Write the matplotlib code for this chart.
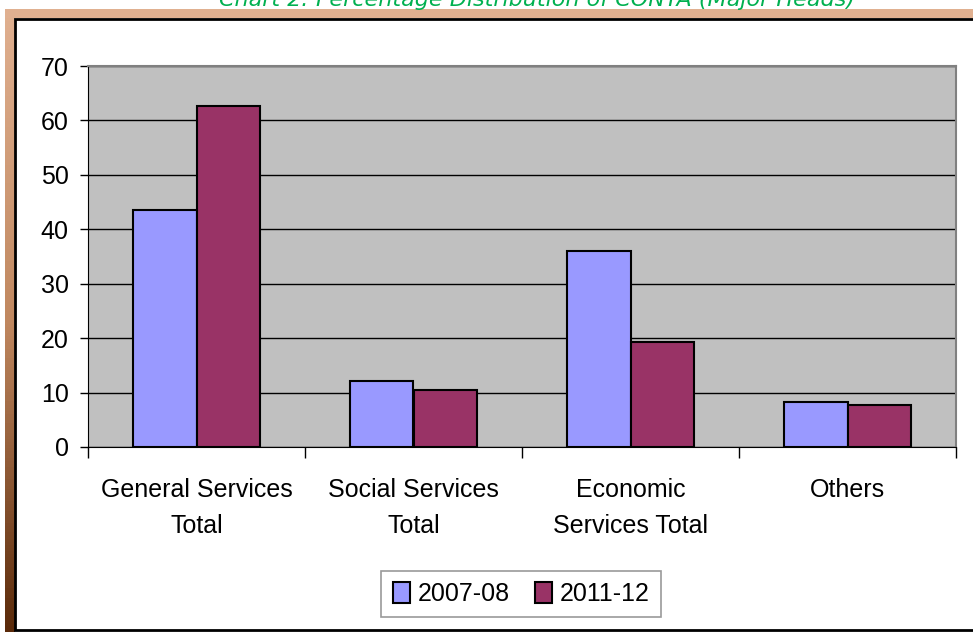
import numpy as np
import matplotlib.pyplot as plt
from matplotlib.patches import Rectangle
from matplotlib.colors import LinearSegmentedColormap

plt.rcParams["font.family"] = ["Liberation Sans", "DejaVu Sans"]

# ---data----
categories = ["General Services\nTotal", "Social Services\nTotal", "Economic\nServices Total", "Others"]
series_names = ["2007-08", "2011-12"]
values_2007 = [43.5, 12.2, 36.1, 8.2]
values_2011 = [62.7, 10.5, 19.2, 7.8]
y_ticks = [0, 10, 20, 30, 40, 50, 60, 70]
title_text = "Chart 2: Percentage Distribution of CONTA (Major Heads)"
# ---data----

W, H = 973, 632
fig = plt.figure(figsize=(W / 100, H / 100), dpi=100)


def fx(px):
    return px / W


def fy(py):
    return 1 - py / H


# frame decorations
fig.patches.append(Rectangle((fx(5), fy(18)), fx(968), 9 / H, transform=fig.transFigure,
                             facecolor="#E0B090", edgecolor="none", zorder=0))
grad_ax = fig.add_axes([fx(5), 0, fx(10), fy(9)])
grad_ax.imshow(np.linspace(0, 1, 200).reshape(-1, 1), aspect="auto",
               cmap=LinearSegmentedColormap.from_list("brd", ["#E0B090", "#C08860", "#5A2A0A"]))
grad_ax.axis("off")
fig.patches.append(Rectangle((fx(15), fy(630)), fx(970), (630 - 19) / H, transform=fig.transFigure,
                             facecolor="white", edgecolor="black", linewidth=2, zorder=0))

fig.text(fx(537), fy(6), title_text, color="#00B050", fontsize=16, style="italic",
         ha="center", va="baseline", family=["DejaVu Sans"])

ax = fig.add_axes([fx(88), fy(447), fx(956 - 88), (447 - 66) / H])
ax.set_zorder(2)
ax.set_facecolor("#C0C0C0")

x = np.arange(len(categories))
w = 0.293
ax.bar(x - w / 2, values_2007, w, color="#9999FF", edgecolor="black", linewidth=1.5,
       label=series_names[0], zorder=3)
ax.bar(x + w / 2, values_2011, w, color="#993366", edgecolor="black", linewidth=1.5,
       label=series_names[1], zorder=3)

ax.set_xlim(-0.5, len(categories) - 0.5)
ax.set_ylim(0, 70)
ax.set_yticks(y_ticks)
ax.yaxis.grid(True, color="black", linewidth=1, zorder=1)
ax.set_axisbelow(True)

ax.set_xticks(x)
ax.set_xticklabels(categories, linespacing=1.65)
ax.set_xticks(np.arange(len(categories) + 1) - 0.5, minor=True)
ax.tick_params(axis="x", which="major", length=0, pad=22, labelsize=18)
ax.tick_params(axis="x", which="minor", length=8, width=1, direction="out")
ax.tick_params(axis="y", length=6, width=1, direction="out", pad=8, labelsize=18)

for side in ["top", "right"]:
    ax.spines[side].set_color("#808080")
    ax.spines[side].set_linewidth(1.5)
ax.spines["left"].set_color("black")
ax.spines["bottom"].set_color("black")

leg = fig.legend(loc="center", bbox_to_anchor=(fx(521), fy(594)), ncol=2, fontsize=18,
                 frameon=True, fancybox=False, edgecolor="#808080", handlelength=0.7,
                 handleheight=0.9, handletextpad=0.3, columnspacing=1.0, borderpad=0.45)
leg.get_frame().set_linewidth(1.2)
leg.set_zorder(3)

fig.savefig("out.png", dpi=100)
